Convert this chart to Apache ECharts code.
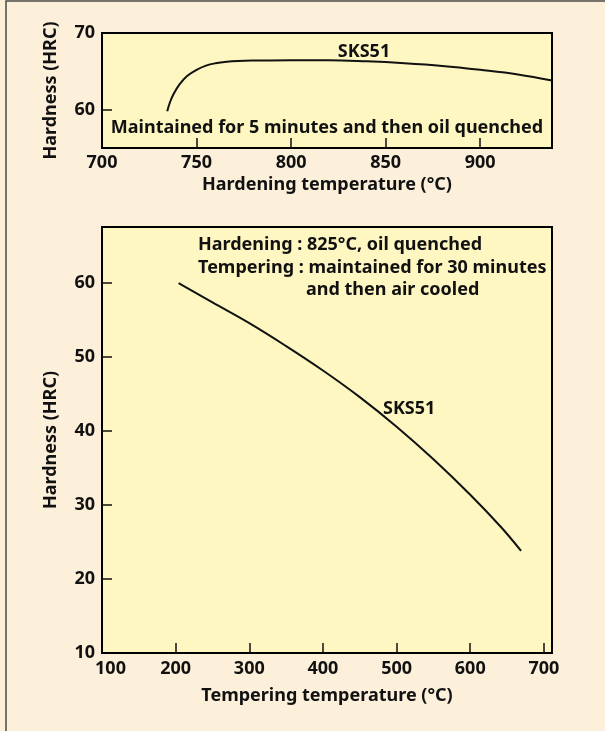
<!DOCTYPE html>
<html>
<head>
<meta charset="utf-8">
<script src="https://cdn.jsdelivr.net/npm/echarts@6/dist/echarts.min.js"></script>
<style>
  html, body { margin: 0; padding: 0; background: #fdf0db; }
  #chart { width: 605px; height: 731px; }
</style>
</head>
<body>
<div id="chart"></div>
<script>
// Hardening curve: hardness after quenching from various temperatures
const hardeningTemp = [734.5, 736, 738, 741, 745, 750, 755, 760, 766, 772, 780, 800, 820, 840, 860, 880, 900, 920, 938];
const hardeningHRC  = [59.8, 61.0, 62.1, 63.3, 64.4, 65.2, 65.75, 66.05, 66.25, 66.35, 66.4, 66.45, 66.45, 66.3, 66.05, 65.7, 65.2, 64.6, 63.8];

// Tempering curve: hardness after tempering at various temperatures
const temperingTemp = [204, 250, 300, 350, 400, 450, 500, 550, 600, 642, 669];
const temperingHRC  = [60.0, 57.4, 54.6, 51.5, 48.2, 44.6, 40.6, 36.2, 31.4, 27.0, 23.8];

// Tick labels
const topXLabels = [700, 750, 800, 850, 900];
const topYLabels = [60, 70];
const botXLabels = [100, 200, 300, 400, 500, 600, 700];
const botYLabels = [10, 20, 30, 40, 50, 60];

const seriesName = 'SKS51';
const FONT = 'Noto Sans';
const FS = 18;
const INK = '#111';
const PLOT_BG = '#fff7c1';
const TEXT_FONT = 'bold ' + FS + 'px "Noto Sans"';

const zip = (xs, ys) => xs.map((x, i) => [x, ys[i]]);

const labelStyle = { color: INK, fontFamily: FONT, fontWeight: 'bold', fontSize: FS };
const tickStyle = { inside: true, length: 10, lineStyle: { color: INK, width: 1.5 } };

const chart = echarts.init(document.getElementById('chart'), null, { renderer: 'canvas' });

chart.setOption({
  backgroundColor: '#fdf0db',
  animation: false,
  grid: [
    { left: 102, top: 33, width: 450, height: 115, show: true, backgroundColor: PLOT_BG, borderColor: '#000', borderWidth: 2 },
    { left: 102, top: 227, width: 450, height: 426, show: true, backgroundColor: PLOT_BG, borderColor: '#000', borderWidth: 2 }
  ],
  xAxis: [
    {
      gridIndex: 0, type: 'value', min: 700, max: 938,
      name: 'Hardening temperature (°C)', nameLocation: 'middle', nameGap: 28,
      nameTextStyle: labelStyle,
      axisLine: { show: false },
      axisTick: Object.assign({ customValues: [750, 800, 850, 900] }, tickStyle),
      axisLabel: Object.assign({ customValues: topXLabels, margin: 6 }, labelStyle),
      splitLine: { show: false }
    },
    {
      gridIndex: 1, type: 'value', min: 100, max: 711,
      name: 'Tempering temperature (°C)', nameLocation: 'middle', nameGap: 34,
      nameTextStyle: labelStyle,
      axisLine: { show: false },
      axisTick: Object.assign({ customValues: [200, 300, 400, 500, 600, 700] }, tickStyle),
      axisLabel: Object.assign({
        customValues: botXLabels, margin: 7,
        formatter: v => v === 100 ? '{first|100}' : String(v),
        rich: { first: Object.assign({ padding: [0, 0, 0, 17] }, labelStyle) }
      }, labelStyle),
      splitLine: { show: false }
    }
  ],
  yAxis: [
    {
      gridIndex: 0, type: 'value', min: 55, max: 70,
      name: 'Hardness (HRC)', nameLocation: 'middle', nameGap: 42,
      nameTextStyle: labelStyle,
      axisLine: { show: false },
      axisTick: Object.assign({ customValues: [60] }, tickStyle),
      axisLabel: Object.assign({ customValues: topYLabels, margin: 7 }, labelStyle),
      splitLine: { show: false }
    },
    {
      gridIndex: 1, type: 'value', min: 10, max: 67.6,
      name: 'Hardness (HRC)', nameLocation: 'middle', nameGap: 42,
      nameTextStyle: labelStyle,
      axisLine: { show: false },
      axisTick: Object.assign({ customValues: [20, 30, 40, 50, 60] }, tickStyle),
      axisLabel: Object.assign({ customValues: botYLabels, margin: 7 }, labelStyle),
      splitLine: { show: false }
    }
  ],
  series: [
    {
      name: seriesName, type: 'line', xAxisIndex: 0, yAxisIndex: 0,
      data: zip(hardeningTemp, hardeningHRC),
      smooth: 0.4, showSymbol: false, silent: true,
      lineStyle: { color: '#111', width: 2 }
    },
    {
      name: seriesName, type: 'line', xAxisIndex: 1, yAxisIndex: 1,
      data: zip(temperingTemp, temperingHRC),
      smooth: 0.4, showSymbol: false, silent: true,
      lineStyle: { color: '#111', width: 2 }
    }
  ],
  graphic: [
    // page frame
    { type: 'rect', shape: { x: 6, y: 1, width: 700, height: 800 }, style: { fill: 'none', stroke: '#4a4a4a', lineWidth: 1.5 }, silent: true },
    // top panel annotations
    { type: 'text', x: 364, y: 52, style: { text: seriesName, align: 'center', verticalAlign: 'middle', fill: INK, font: TEXT_FONT } },
    { type: 'text', x: 327, y: 128, style: { text: 'Maintained for 5 minutes and then oil quenched', align: 'center', verticalAlign: 'middle', fill: INK, font: TEXT_FONT } },
    // bottom panel annotations
    { type: 'text', x: 198, y: 245, style: { text: 'Hardening : 825°C, oil quenched', align: 'left', verticalAlign: 'middle', fill: INK, font: TEXT_FONT } },
    { type: 'text', x: 198, y: 268, style: { text: 'Tempering : maintained for 30 minutes', align: 'left', verticalAlign: 'middle', fill: INK, font: TEXT_FONT } },
    { type: 'text', x: 306, y: 290, style: { text: 'and then air cooled', align: 'left', verticalAlign: 'middle', fill: INK, font: TEXT_FONT } },
    { type: 'text', x: 383, y: 409, style: { text: seriesName, align: 'left', verticalAlign: 'middle', fill: INK, font: TEXT_FONT } }
  ]
});
</script>
</body>
</html>
